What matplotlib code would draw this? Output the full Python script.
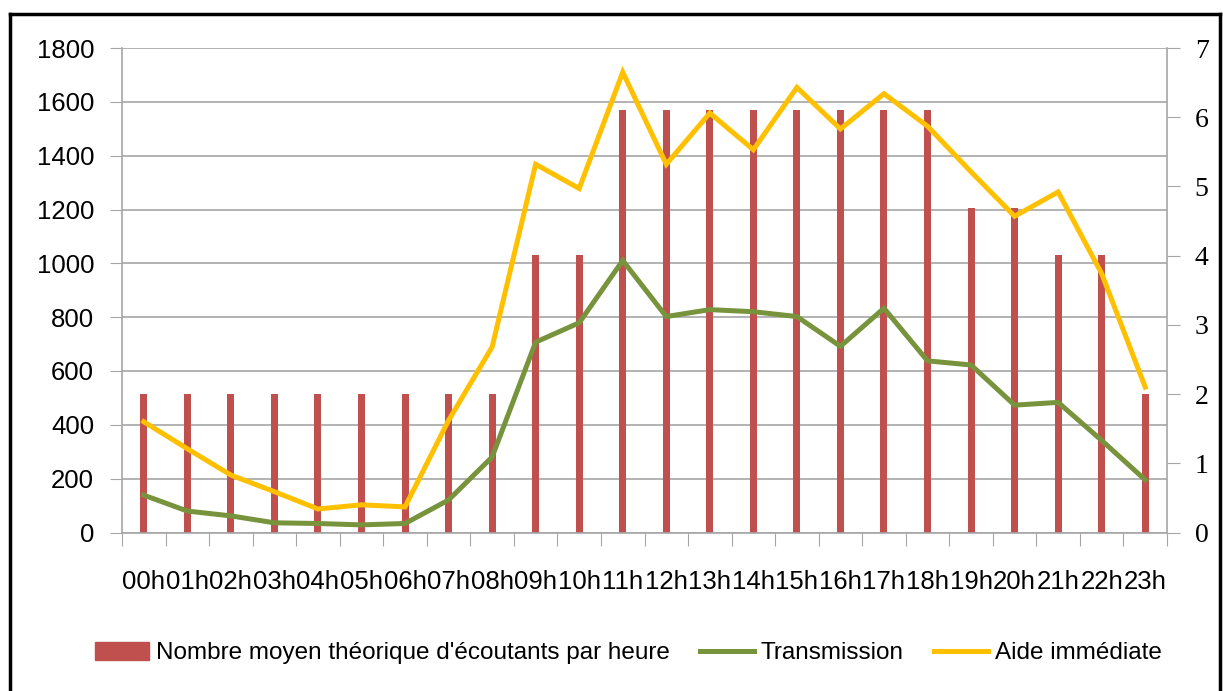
import numpy as np
import matplotlib.pyplot as plt
from matplotlib.lines import Line2D
from matplotlib.patches import Patch

# Heures et valeurs
heures = ["%02dh" % h for h in range(24)]
ecoutants = [515, 515, 515, 515, 515, 515, 515, 515, 515, 1030, 1030, 1570,
             1570, 1570, 1570, 1570, 1570, 1570, 1570, 1207, 1207, 1030, 1030, 515]
transmission = [0.54, 0.31, 0.24, 0.14, 0.13, 0.11, 0.13, 0.47, 1.09, 2.75, 3.03, 3.93,
                3.12, 3.22, 3.19, 3.12, 2.69, 3.24, 2.48, 2.42, 1.84, 1.88, 1.33, 0.76]
aide = [1.60, 1.21, 0.83, 0.59, 0.34, 0.40, 0.37, 1.62, 2.68, 5.32, 4.97, 6.65,
        5.32, 6.06, 5.53, 6.43, 5.83, 6.34, 5.87, 5.21, 4.57, 4.92, 3.74, 2.10]

rouge = '#C0504D'
vert = '#77933C'
jaune = '#FFC000'
gris = '#A6A6A6'

plt.rcParams['font.family'] = ['Liberation Sans', 'DejaVu Sans']

W, H = 1223, 691
fig = plt.figure(figsize=(W / 100, H / 100), dpi=100)
ax = fig.add_axes([122 / W, 1 - 532.5 / H, (1167 - 122) / W, (532.5 - 48) / H])

x = np.arange(24)
ax.bar(x, ecoutants, width=0.16, color=rouge, zorder=2)
ax.set_xlim(-0.5, 23.5)
ax.set_ylim(0, 1800)
ax.set_yticks(range(0, 1801, 200))
ax.tick_params(axis='y', labelsize=18.5, length=9, color=gris, pad=11)
ax.grid(axis='y', color=gris, linewidth=1.2, zorder=0)
ax.set_axisbelow(True)

# graduations de l'axe x entre les categories, etiquettes au centre
ax.set_xticks(np.arange(-0.5, 24, 1))
ax.set_xticklabels([])
ax.set_xticks(x, minor=True)
ax.set_xticklabels(heures, minor=True)
ax.tick_params(axis='x', which='major', length=9, color=gris, direction='out')
ax.tick_params(axis='x', which='minor', length=0, labelsize=18.5, pad=27)

for s in ['left', 'bottom']:
    ax.spines[s].set_color(gris)
    ax.spines[s].set_linewidth(1.2)
ax.spines['top'].set_visible(False)
ax.spines['right'].set_visible(False)

ax2 = ax.twinx()
ax2.plot(x, transmission, color=vert, linewidth=3.6, solid_joinstyle='miter')
ax2.plot(x, aide, color=jaune, linewidth=3.6, solid_joinstyle='miter')
ax2.set_ylim(0, 7)
ax2.set_yticks(range(0, 8))
ax2.tick_params(axis='y', length=9, color=gris, pad=11)
for lab in ax2.get_yticklabels():
    lab.set_family('Liberation Serif')
    lab.set_fontsize(20)
ax2.spines['right'].set_color(gris)
ax2.spines['right'].set_linewidth(1.2)
for s in ['left', 'bottom', 'top']:
    ax2.spines[s].set_visible(False)

handles = [Patch(color=rouge),
           Line2D([], [], color=vert, linewidth=3.6),
           Line2D([], [], color=jaune, linewidth=3.6)]
labels = ["Nombre moyen théorique d'écoutants par heure", "Transmission", "Aide immédiate"]
fig.legend(handles, labels, loc='center', bbox_to_anchor=((95 + 1162) / 2 / W, 1 - 653 / H),
           ncol=3, frameon=False, fontsize=17.5, handlelength=2.2, handleheight=0.75,
           handletextpad=0.3, columnspacing=1.25)

# cadre noir autour du graphique
for xs, ys in [([10, 10], [14, H + 5]), ([10, 1220], [14, 14]), ([1220, 1220], [14, H + 5])]:
    fig.add_artist(Line2D([v / W for v in xs], [1 - v / H for v in ys],
                          color='black', linewidth=2.5, transform=fig.transFigure))

fig.savefig('out.png', dpi=100)
